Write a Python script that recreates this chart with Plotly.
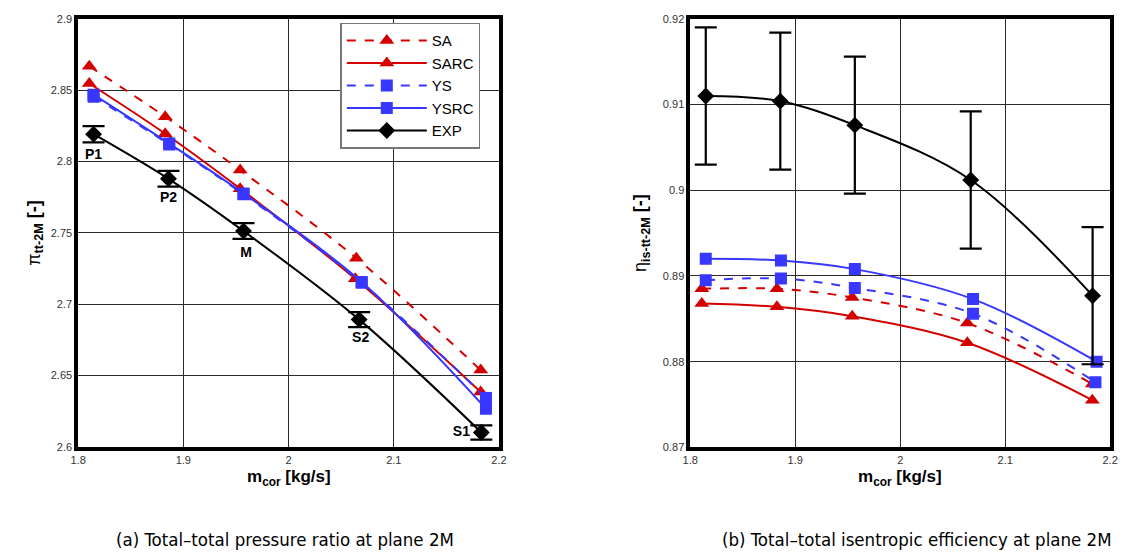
import plotly.graph_objects as go

# ---------------- data ----------------
# (a) total-total pressure ratio
sa_x_a = [1.8106, 1.8828, 1.9540, 2.0644, 2.1826]
sa_y_a = [2.8668, 2.8314, 2.7940, 2.7323, 2.6538]
sarc_x_a = [1.8106, 1.8828, 1.9540, 2.0634, 2.1826]
sarc_y_a = [2.8547, 2.8195, 2.7810, 2.7178, 2.6384]
ys_x_a = [1.8147, 1.8866, 1.9572, 2.0695, 2.1876]
ys_y_a = [2.8455, 2.8120, 2.7770, 2.7150, 2.6343]
ysrc_x_a = [1.8147, 1.8866, 1.9572, 2.0695, 2.1876]
ysrc_y_a = [2.8469, 2.8126, 2.7776, 2.7156, 2.6268]
exp_x_a = [1.8147, 1.8859, 1.9572, 2.0671, 2.1832]
exp_y_a = [2.8192, 2.7879, 2.7513, 2.6892, 2.6101]
exp_err_a = [0.0057, 0.0055, 0.0055, 0.0053, 0.0050]
point_labels = ["P1", "P2", "M", "S2", "S1"]
label_x = [1.8147, 1.8859, 1.9596, 2.0685, 2.1643]
label_y = [2.8045, 2.7743, 2.7352, 2.6761, 2.6102]

# (b) total-total isentropic efficiency
sa_x_b = [1.8110, 1.8826, 1.9543, 2.0640, 2.1830]
sa_y_b = [0.8885, 0.8885, 0.8875, 0.8845, 0.8774]
sarc_x_b = [1.8110, 1.8826, 1.9543, 2.0640, 2.1830]
sarc_y_b = [0.8868, 0.8864, 0.8853, 0.8822, 0.8755]
ys_x_b = [1.8148, 1.8864, 1.9568, 2.0694, 2.1860]
ys_y_b = [0.8895, 0.8897, 0.8886, 0.8856, 0.8776]
ysrc_x_b = [1.8148, 1.8864, 1.9568, 2.0694, 2.1871]
ysrc_y_b = [0.8920, 0.8918, 0.8908, 0.8873, 0.8800]
exp_x_b = [1.8148, 1.8858, 1.9568, 2.0672, 2.1833]
exp_y_b = [0.9110, 0.9104, 0.9076, 0.9012, 0.8877]
exp_err_b = [0.0080, 0.0080, 0.0080, 0.0080, 0.0080]

x_ticks = [1.8, 1.9, 2.0, 2.1, 2.2]
x_ticktext = ["1.8", "1.9", "2", "2.1", "2.2"]
ya_ticks = [2.6, 2.65, 2.7, 2.75, 2.8, 2.85, 2.9]
ya_ticktext = ["2.6", "2.65", "2.7", "2.75", "2.8", "2.85", "2.9"]
yb_ticks = [0.87, 0.88, 0.89, 0.90, 0.91, 0.92]
yb_ticktext = ["0.87", "0.88", "0.89", "0.9", "0.91", "0.92"]

RED = "#d40000"
BLUE = "#3737ff"
BLACK = "#000000"

fig = go.Figure()

def add_series(x, y, name, color, dash, symbol, msize, xa, ya, show, err=None):
    kw = {}
    if err is not None:
        kw["error_y"] = dict(type="data", array=err, visible=True, color=BLACK,
                             thickness=2.2, width=11)
    fig.add_trace(go.Scatter(
        x=x, y=y, name=name, mode="lines+markers",
        line=dict(color=color, width=2, dash=dash, shape="spline", smoothing=1.0),
        marker=dict(symbol=symbol, size=msize, color=color),
        xaxis=xa, yaxis=ya, showlegend=show, **kw))

# (a)
add_series(sa_x_a, sa_y_a, "SA", RED, "dash", "triangle-up", 13, "x", "y", True)
add_series(sarc_x_a, sarc_y_a, "SARC", RED, "solid", "triangle-up", 13, "x", "y", True)
add_series(ys_x_a, ys_y_a, "YS", BLUE, "dash", "square", 12, "x", "y", True)
add_series(ysrc_x_a, ysrc_y_a, "YSRC", BLUE, "solid", "square", 12, "x", "y", True)
add_series(exp_x_a, exp_y_a, "EXP", BLACK, "solid", "diamond", 13, "x", "y", True, exp_err_a)

# (b)
add_series(sa_x_b, sa_y_b, "SA", RED, "dash", "triangle-up", 13, "x2", "y2", False)
add_series(sarc_x_b, sarc_y_b, "SARC", RED, "solid", "triangle-up", 13, "x2", "y2", False)
add_series(ys_x_b, ys_y_b, "YS", BLUE, "dash", "square", 12, "x2", "y2", False)
add_series(ysrc_x_b, ysrc_y_b, "YSRC", BLUE, "solid", "square", 12, "x2", "y2", False)
add_series(exp_x_b, exp_y_b, "EXP", BLACK, "solid", "diamond", 13, "x2", "y2", False, exp_err_b)

# point labels
fig.add_trace(go.Scatter(
    x=label_x, y=label_y, mode="text", text=["<b>%s</b>" % t for t in point_labels],
    textfont=dict(family="Liberation Sans, Arial", size=14, color=BLACK),
    xaxis="x", yaxis="y", showlegend=False, hoverinfo="skip"))

# The page body has an 8 px default margin: the figure is shifted by OFF.
OFF = 8
W, H = 1128 - OFF, 559 - OFF

def px(v):
    return (v - OFF) / W

def py(v):
    return 1 - (v - OFF) / H

axis_common = dict(
    showline=True, linecolor=BLACK, linewidth=3.5, mirror=True,
    showgrid=True, gridcolor="#2a2a2a", gridwidth=1,
    zeroline=False, ticks="", ticklabeloverflow="allow",
    tickfont=dict(family="Liberation Sans, Arial", size=11, color="#333333"),
)

fig.update_layout(
    width=W, height=H,
    margin=dict(l=0, r=0, t=0, b=0),
    paper_bgcolor="white", plot_bgcolor="white",
    xaxis=dict(domain=[px(71), px(498)], range=[1.8, 2.2], anchor="y",
               tickvals=x_ticks, ticktext=x_ticktext, **axis_common),
    yaxis=dict(domain=[py(450.5), py(13)], range=[2.6, 2.9], anchor="x",
               tickvals=ya_ticks, ticktext=ya_ticktext, **axis_common),
    xaxis2=dict(domain=[px(692), px(1118)], range=[1.8, 2.2], anchor="y2",
                tickvals=x_ticks, ticktext=x_ticktext, **axis_common),
    yaxis2=dict(domain=[py(451), py(13)], range=[0.87, 0.92], anchor="x2",
                tickvals=yb_ticks, ticktext=yb_ticktext, **axis_common),
    legend=dict(
        x=px(337), y=py(17), xanchor="left", yanchor="top",
        bgcolor="white", bordercolor="#777777", borderwidth=1.5,
        font=dict(family="Liberation Sans, Arial", size=15, color=BLACK),
        itemwidth=80, tracegroupgap=0,
    ),
    font=dict(family="Liberation Sans, Arial", color=BLACK),
)

title_font = dict(family="Liberation Sans, Arial", size=17, color=BLACK)
ann = []
# x titles
for cx in [(71 + 498) / 2, (692 + 1118) / 2]:
    ann.append(dict(xref="paper", yref="paper", x=px(cx), y=py(482),
                    text="<b>m<sub>cor</sub> [kg/s]</b>", showarrow=False,
                    font=title_font, xanchor="center", yanchor="middle"))
# y titles
ann.append(dict(xref="paper", yref="paper", x=px(27), y=py(232),
                text="π<sub><b>tt-2M</b></sub> <b>[-]</b>", textangle=-90,
                showarrow=False, font=dict(family="Liberation Sans, Arial", size=18, color=BLACK),
                xanchor="center", yanchor="middle"))
ann.append(dict(xref="paper", yref="paper", x=px(642), y=py(232),
                text="η<sub><b>is-tt-2M</b></sub> <b>[-]</b>", textangle=-90,
                showarrow=False, font=dict(family="Liberation Sans, Arial", size=18, color=BLACK),
                xanchor="center", yanchor="middle"))
# captions
cap_font = dict(family="DejaVu Sans Condensed, DejaVu Sans", size=18.5, color=BLACK)
ann.append(dict(xref="paper", yref="paper", x=px(281), y=py(545),
                text="(a) Total–total pressure ratio at plane 2M", showarrow=False,
                font=cap_font, xanchor="center", yanchor="middle"))
ann.append(dict(xref="paper", yref="paper", x=px(922), y=py(545),
                text="(b) Total–total isentropic efficiency at plane 2M", showarrow=False,
                font=cap_font, xanchor="center", yanchor="middle"))
fig.update_layout(annotations=ann)

fig.write_html("out.html")
